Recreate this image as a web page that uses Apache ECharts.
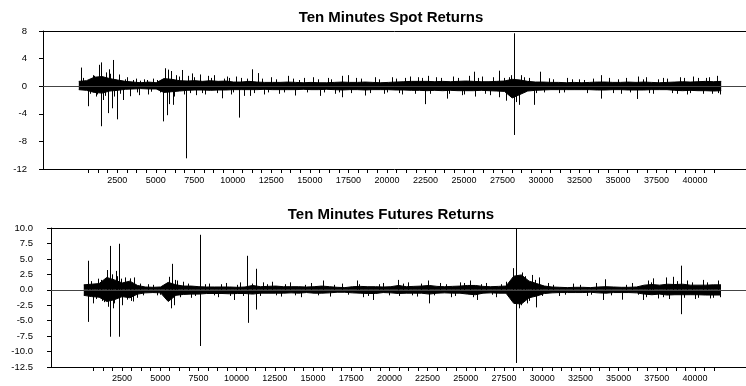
<!DOCTYPE html>
<html>
<head>
<meta charset="utf-8">
<script src="https://cdn.jsdelivr.net/npm/echarts@6/dist/echarts.min.js"></script>
<style>
html, body { margin: 0; padding: 0; background: #fff; }
#chart { width: 746px; height: 386px; }
</style>
</head>
<body>
<div id="chart"></div>
<script>
// observations in each series
const nObs = 41700;

const xTickLabels = [2500, 5000, 7500, 10000, 12500, 15000, 17500, 20000, 22500, 25000,
	27500, 30000, 32500, 35000, 37500, 40000];
const spotYTicks = [-12, -8, -4, 0, 4, 8];
const futYTicks = [-12.5, -10, -7.5, -5, -2.5, 0, 2.5, 5, 7.5, 10];

// dense core of the noise (upper / lower edge), evenly spread over the sample
const spotHi = [0.7, 0.8, 1.3, 1.4, 1.1, 0.9, 0.7, 0.6, 0.5, 0.6,
	0.5, 1.1, 1.0, 0.8, 0.75, 0.8, 0.7, 0.8, 0.7, 0.75,
	0.6, 0.6, 0.7, 0.6, 0.55, 0.55, 0.55, 0.6, 0.55, 0.5,
	0.55, 0.5, 0.5, 0.55, 0.6, 0.55, 0.55, 0.6, 0.55, 0.5,
	0.55, 0.6, 0.65, 0.7, 0.7, 0.7, 0.65, 0.7, 0.65, 0.7,
	0.75, 0.7, 0.65, 0.65, 0.7, 0.75, 1.0, 0.9, 0.7, 0.6,
	0.6, 0.55, 0.55, 0.5, 0.55, 0.5, 0.55, 0.6, 0.6, 0.55,
	0.55, 0.6, 0.55, 0.6, 0.55, 0.5, 0.55, 0.6, 0.65, 0.6,
	0.65, 0.7, 0.65, 0.7];
const spotLo = [-0.5, -0.6, -0.9, -1.0, -0.7, -0.6, -0.45, -0.4, -0.35, -0.4,
	-0.4, -0.9, -0.8, -0.7, -0.6, -0.55, -0.55, -0.6, -0.55, -0.55,
	-0.5, -0.5, -0.5, -0.5, -0.45, -0.5, -0.5, -0.5, -0.5, -0.45,
	-0.5, -0.5, -0.45, -0.5, -0.55, -0.5, -0.5, -0.55, -0.5, -0.5,
	-0.5, -0.55, -0.55, -0.6, -0.6, -0.65, -0.6, -0.65, -0.6, -0.65,
	-0.65, -0.65, -0.6, -0.65, -0.7, -0.75, -1.7, -1.2, -0.7, -0.6,
	-0.55, -0.5, -0.5, -0.5, -0.5, -0.5, -0.5, -0.55, -0.55, -0.5,
	-0.5, -0.55, -0.55, -0.55, -0.5, -0.5, -0.5, -0.6, -0.65, -0.6,
	-0.65, -0.65, -0.7, -0.65];
// single observations sticking out of the core: [observation, return]
const spotSpikes = [[120, 2.7], [300, 1.2], [570, -2.9], [700, -1.1], [900, 1.6], [1000, 1.5], [1100, -1.5], [1200, -1.2],
	[1330, 3.1], [1440, -5.8], [1460, 3.45], [1600, -2.0], [1700, -1.4], [1750, 2.0], [1910, -3.9], [1975, 2.45], [2050, 1.8],
	[2130, -3.2], [2200, 3.8], [2300, -1.5], [2480, -4.8], [2600, 1.7], [2700, -1.1], [2850, -2.0], [3000, 1.0], [3100, 1.3],
	[3300, -1.45], [3500, 0.9], [3700, 1.1], [3800, -0.9], [3900, -1.3], [4000, 0.8], [4200, 1.0], [4400, 0.9], [4500, -1.2],
	[4700, -0.8], [4800, 1.1], [5100, 0.9], [5300, -0.9], [5490, -5.1], [5620, 2.6], [5710, -4.2], [5780, 2.4], [5850, -2.6],
	[6000, 2.2], [6100, -2.7], [6200, -1.5], [6300, 1.6], [6500, 1.4], [6680, 2.35], [6800, -1.2], [6940, -10.45], [7100, 1.5],
	[7200, -1.0], [7330, 1.85], [7500, 1.3], [7600, -1.3], [7870, 1.7], [8000, -1.0], [8200, -1.2], [8400, 1.5], [8600, 1.2],
	[8800, 1.6], [9000, -1.0], [9280, -1.75], [9400, 1.1], [9600, 1.4], [9750, 1.2], [9900, -1.2], [10000, -0.9], [10200, 1.4],
	[10430, -4.55], [10500, 1.2], [10700, -1.4], [10900, 1.1], [11100, -1.4], [11230, 2.45], [11400, -1.0], [11660, 1.9],
	[11900, 1.1], [12000, -1.2], [12300, -0.9], [12500, 1.3], [12800, 1.0], [13000, -1.1], [13300, -0.9], [13610, 1.5],
	[13900, 1.1], [14050, -1.35], [14300, 0.9], [14600, 1.2], [14800, -0.9], [15200, 1.3], [15500, 1.0], [15670, -1.4],
	[15900, -0.9], [16200, 1.2], [16400, 1.0], [16600, -1.1], [16900, -0.9], [17080, -1.6], [17100, 1.5], [17450, 1.6],
	[17700, -1.0], [18000, 1.2], [18300, 1.1], [18600, -1.35], [18900, -1.0], [19200, 1.3], [19500, 1.0], [19800, -1.1],
	[20000, -0.9], [20300, 1.3], [20600, 1.1], [20800, -1.0], [21000, -1.2], [21200, 1.2], [21500, 1.4], [21800, -1.1],
	[22000, 1.3], [22300, 1.2], [22500, -2.6], [22650, 1.5], [22800, -1.1], [23200, 1.3], [23500, 1.2], [23900, -1.8],
	[24000, -1.1], [24300, 1.4], [24600, 1.2], [24900, -1.3], [25000, -1.2], [25300, 1.5], [25640, 2.1], [25700, -1.5],
	[25900, 1.2], [26200, 1.4], [26400, -1.1], [26700, -1.3], [26900, 1.3], [27260, 2.25], [27300, -1.6], [27600, 1.2],
	[27760, -2.1], [27900, 1.3], [28050, 1.6], [28240, 7.67], [28250, -7.07], [28400, -2.3], [28560, -2.7], [28700, 1.6],
	[28900, 1.3], [29200, 1.2], [29540, -2.7], [29700, -1.0], [29930, 2.1], [30200, -0.9], [30500, 1.15], [30800, 1.0],
	[31200, -1.0], [31500, -0.9], [31700, 1.2], [32000, 1.0], [32500, 1.0], [32800, 0.9], [33000, -1.0], [33400, 1.1],
	[33870, -1.8], [33900, 1.6], [34400, 1.2], [34700, -1.0], [35000, 1.0], [35200, -1.1], [35500, 1.2], [35800, -0.9],
	[36260, -1.85], [36300, 1.4], [36600, 1.0], [36800, 1.3], [37000, -1.0], [37300, -1.1], [37600, 1.0], [37900, 1.2],
	[38200, 1.1], [38500, -1.0], [38800, -1.1], [39000, 1.3], [39300, 1.2], [39500, -1.2], [39700, -1.0], [39900, 1.4],
	[40200, 1.2], [40500, -1.1], [40700, 1.2], [40900, 1.3], [41100, -1.1], [41400, 1.5], [41500, -1.0], [41600, -1.2]];

const futHi = [0.8, 0.9, 1.0, 2.0, 1.6, 1.1, 1.4, 0.7, 0.45, 0.4,
	0.45, 1.2, 0.8, 0.6, 0.6, 0.5, 0.45, 0.45, 0.45, 0.45,
	0.4, 0.45, 0.7, 0.5, 0.55, 0.6, 0.5, 0.5, 0.5, 0.45,
	0.5, 0.6, 0.5, 0.4, 0.35, 0.5, 0.55, 0.5, 0.5, 0.45,
	0.5, 0.7, 0.5, 0.55, 0.6, 0.7, 0.55, 0.5, 0.55, 0.6,
	0.7, 0.7, 0.55, 0.5, 0.55, 0.6, 2.2, 2.4, 1.4, 1.0,
	0.6, 0.45, 0.4, 0.35, 0.4, 0.4, 0.35, 0.45, 0.5, 0.45,
	0.4, 0.4, 0.45, 0.75, 0.85, 0.75, 0.9, 0.85, 0.9, 0.75,
	0.75, 0.75, 0.8, 0.8];
const futLo = [-0.9, -1.1, -1.2, -1.9, -1.6, -1.1, -1.3, -0.7, -0.5, -0.45,
	-0.5, -1.9, -0.9, -0.75, -0.7, -0.7, -0.6, -0.6, -0.6, -0.65,
	-0.6, -0.6, -0.7, -0.55, -0.55, -0.55, -0.55, -0.5, -0.55, -0.45,
	-0.55, -0.55, -0.5, -0.4, -0.4, -0.5, -0.55, -0.6, -0.6, -0.45,
	-0.5, -0.6, -0.55, -0.55, -0.55, -0.7, -0.55, -0.5, -0.55, -0.55,
	-0.7, -0.8, -0.55, -0.5, -0.55, -0.55, -2.2, -2.3, -1.3, -1.0,
	-0.6, -0.5, -0.45, -0.45, -0.45, -0.45, -0.4, -0.5, -0.55, -0.45,
	-0.45, -0.45, -0.5, -0.7, -0.8, -0.7, -0.85, -0.8, -0.8, -0.8,
	-0.8, -0.85, -0.85, -0.85];
const futSpikes = [[270, 4.7], [280, -5.2], [500, 1.4], [600, -2.2], [800, -1.5], [900, 1.8], [1100, 1.6], [1200, -1.8],
	[1350, -2.0], [1500, 3.2], [1600, -2.75], [1730, 7.1], [1740, -7.6], [1850, 2.5], [1900, -3.0], [2000, -2.2], [2130, 3.05],
	[2200, 2.2], [2320, 7.45], [2330, -7.6], [2450, 1.8], [2500, -2.5], [2700, 2.0], [2800, -1.6], [3000, 1.85], [3100, -1.8],
	[3200, -1.9], [3300, 2.0], [3500, -1.3], [3700, 1.0], [3900, -0.9], [4200, 0.9], [4500, 0.8], [4800, -0.9], [5000, -0.8],
	[5300, 0.9], [5500, -1.8], [5600, 2.1], [5700, -3.0], [5770, 4.2], [5900, -2.5], [5950, 1.6], [6100, 1.5], [6300, -1.2],
	[6500, 1.3], [6800, 1.0], [7000, -1.3], [7300, -1.0], [7575, 8.9], [7585, -9.1], [7900, 0.9], [8200, 1.0], [8500, -0.9],
	[8800, -1.2], [9000, 0.9], [9300, 1.1], [9600, -1.0], [9800, -1.65], [10000, 0.8], [10200, 1.2], [10400, -1.0],
	[10710, 5.5], [10720, -5.35], [11000, 1.0], [11280, 3.4], [11290, -3.2], [11500, -1.0], [11700, 1.2], [12000, 0.9],
	[12300, 1.3], [12600, -0.9], [12900, -1.1], [13200, 0.9], [13500, 1.2], [13800, -0.9], [14200, -1.2], [14500, 0.8],
	[14900, 1.1], [15300, -0.9], [15680, 1.5], [16100, -1.1], [16400, 0.8], [16900, 1.0], [17300, -0.8], [17870, 1.5],
	[18000, 0.9], [18300, -1.2], [18600, -1.0], [18950, -1.65], [19300, 0.9], [19600, 1.1], [20000, -0.9], [20590, 1.6],
	[20600, -1.0], [20900, 1.0], [21200, 1.2], [21500, -0.9], [21800, -1.1], [22100, 1.0], [22550, 1.5], [22560, -2.2],
	[22900, -0.9], [23300, 1.1], [23700, 0.9], [24000, -1.2], [24300, -1.0], [24600, 1.2], [24900, 1.1], [25280, 1.5],
	[25500, -1.2], [25720, -1.65], [26000, 0.9], [26300, 1.1], [26700, -0.8], [27000, -1.2], [27300, 0.9], [27600, 1.3],
	[27900, -1.0], [28100, 3.5], [28290, 10.0], [28300, -11.85], [28450, -3.0], [28600, -2.5], [28700, 2.8], [28900, 2.2],
	[29000, -2.2], [29150, -1.8], [29300, 2.4], [29500, 1.6], [29590, -2.85], [29800, 2.0], [30000, -1.0], [30400, 1.1],
	[30700, 0.8], [31100, -1.0], [31500, -0.8], [32000, 1.0], [32500, 0.8], [32900, -1.0], [33200, -0.8], [33500, 1.1],
	[33950, -1.65], [34110, 1.7], [34500, -0.9], [35200, -1.6], [35500, 0.8], [35900, 1.1], [36300, -0.8], [36600, -1.65],
	[36800, -1.2], [36900, 1.5], [37100, 1.2], [37270, 1.85], [37600, -1.4], [37900, -1.2], [38070, 2.0], [38300, -1.5],
	[38530, 2.1], [38800, 1.4], [39080, 3.9], [39090, -3.95], [39300, -1.3], [39500, 1.5], [39800, 1.2], [40000, -1.5],
	[40200, -1.3], [40500, 1.6], [40800, 1.2], [41000, -1.4], [41200, -1.3], [41500, 1.5], [41650, -1.2]];

const font = 'Arial, "Liberation Sans", sans-serif';

toBand = (vals) => vals.map((v, i) => [i * nObs / (vals.length - 1), v]);

minorTicks = [];
for (let t = 625; t <= 41250; t += 625) minorTicks.push(t);

spikeItem = (params, api) => {
	let a = api.coord([api.value(0), 0]);
	let b = api.coord([api.value(0), api.value(1)]);
	let x = Math.round(a[0]) + 0.5;
	return {
		type: 'line',
		shape: { x1: x, y1: a[1], x2: x, y2: b[1] },
		style: { stroke: '#000', lineWidth: 1 }
	};
};

xAxisFor = (idx, min, max) => [{
	type: 'value',
	gridIndex: idx,
	min: min,
	max: max,
	splitLine: { show: false },
	axisLine: { show: true, onZero: false, lineStyle: { color: '#000', width: 1 } },
	axisTick: { show: true, customValues: minorTicks, length: 4, lineStyle: { color: '#000' } },
	axisLabel: {
		customValues: xTickLabels, color: '#000', fontSize: 9, fontFamily: font, margin: 7,
		formatter: (v) => String(v)
	}
}, {
	type: 'value',
	gridIndex: idx,
	position: 'top',
	min: min,
	max: max,
	splitLine: { show: false },
	axisTick: { show: false },
	axisLabel: { show: false },
	axisLine: { show: true, onZero: false, lineStyle: { color: '#000', width: 1 } }
}];

yAxisFor = (idx, ticks, margin, digits) => ({
	type: 'value',
	gridIndex: idx,
	min: ticks[0],
	max: ticks[ticks.length - 1],
	interval: ticks[1] - ticks[0],
	splitLine: { show: false },
	axisLine: { show: true, onZero: false, lineStyle: { color: '#000', width: 1 } },
	axisTick: { show: true, length: 4, lineStyle: { color: '#000' } },
	axisLabel: {
		color: '#000', fontSize: 9.5, fontFamily: font, margin: margin,
		formatter: (v) => v.toFixed(digits)
	}
});

bandSeries = (xi, yi, vals, withZero) => ({
	type: 'line',
	xAxisIndex: xi,
	yAxisIndex: yi,
	data: toBand(vals),
	symbol: 'none',
	silent: true,
	lineStyle: { color: '#000', width: 1 },
	areaStyle: { color: '#000', opacity: 1 },
	markLine: withZero ? {
		silent: true,
		symbol: 'none',
		label: { show: false },
		lineStyle: { color: '#444', width: 1, type: 'solid' },
		data: [{ yAxis: 0 }]
	} : undefined
});

spikeSeries = (xi, yi, data) => ({
	type: 'custom',
	xAxisIndex: xi,
	yAxisIndex: yi,
	clip: true,
	silent: true,
	renderItem: spikeItem,
	data: data
});

let chart = echarts.init(document.getElementById('chart'));
let option = {
	animation: false,
	backgroundColor: '#fff',
	title: [{
		text: 'Ten Minutes Spot Returns',
		left: 391,
		top: 10,
		textAlign: 'center',
		padding: 0,
		textStyle: { fontSize: 15, fontWeight: 'bold', color: '#000', fontFamily: font }
	}, {
		text: 'Ten Minutes Futures Returns',
		left: 391,
		top: 207,
		textAlign: 'center',
		padding: 0,
		textStyle: { fontSize: 15, fontWeight: 'bold', color: '#000', fontFamily: font }
	}],
	grid: [
		{ left: 43, right: 0, top: 31, height: 138 },
		{ left: 51, right: 0, top: 228, height: 139 }
	],
	xAxis: [].concat(xAxisFor(0, -2324, 43311), xAxisFor(1, -2145, 43335)),
	yAxis: [
		yAxisFor(0, spotYTicks, 16, 0),
		yAxisFor(1, futYTicks, 18, 1)
	],
	series: [
		bandSeries(0, 0, spotHi, true),
		bandSeries(0, 0, spotLo, false),
		spikeSeries(0, 0, spotSpikes),
		bandSeries(2, 1, futHi, true),
		bandSeries(2, 1, futLo, false),
		spikeSeries(2, 1, futSpikes)
	]
};
chart.setOption(option);
</script>
</body>
</html>
